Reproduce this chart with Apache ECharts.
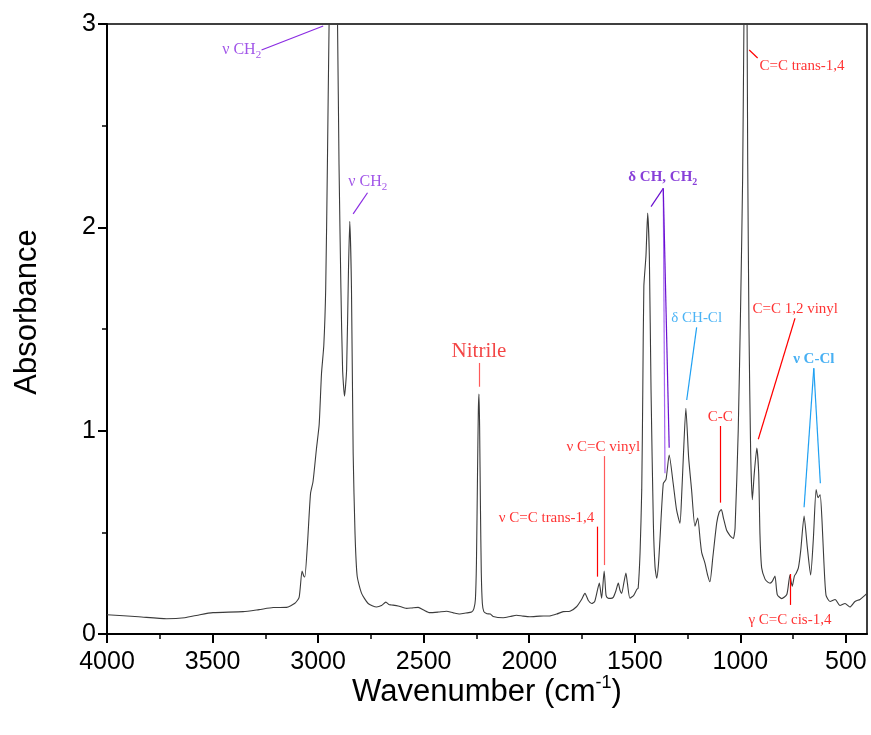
<!DOCTYPE html>
<html><head><meta charset="utf-8">
<script src="https://cdn.jsdelivr.net/npm/echarts@6/dist/echarts.min.js"></script>
<style>html,body{margin:0;padding:0;background:#fff}#c{width:871px;height:735px}</style>
</head><body><div id="c"></div>
<script>
// Spectrum (wavenumber in cm-1, absorbance)
const wavenumber = [4000,3850,3718,3632,3560,3498,3355,3280,3213,3150,3110,3090,3076,3068,3063,3050,3036,3024,3008,2995,2984,2973,2964,2956,2948,2938,2928,2918,2908,2901,2892,2884,2875,2865,2856,2850,2842,2834,2825,2815,2794,2763,2723,2700,2679,2665,2652,2621,2581,2557,2526,2500,2471,2430,2392,2360,2329,2300,2273,2262,2255,2250,2245,2241,2238,2235,2231,2227,2222,2215,2200,2184,2171,2123,2090,2060,2030,1997,1950,1902,1870,1839,1807,1776,1752,1736,1720,1704,1690,1676,1668,1657,1645,1636,1626,1614,1602,1590,1578,1570,1562,1552,1542,1535,1523,1505,1490,1484,1475,1467,1462,1457,1447,1439,1431,1423,1412,1404,1396,1388,1381,1365,1352,1337,1318,1302,1286,1278,1270,1258,1245,1231,1215,1202,1190,1183,1168,1155,1144,1130,1112,1100,1090,1080,1065,1050,1041,1033,1025,1010,998,989,983,977,971,968,965,959,951,943,934,922,913,907,899,883,870,859,848,836,825,804,780,770,765,760,754,744,735,725,714,698,683,667,654,641,632,622,613,604,594,575,551,528,504,481,457,433,410,400];
const absorbance = [0.095,0.085,0.075,0.080,0.095,0.105,0.110,0.120,0.130,0.131,0.151,0.18,0.31,0.285,0.28,0.45,0.69,0.75,0.91,1.03,1.28,1.42,1.70,2.31,3.0,3.5,3.7,3.5,3.0,2.31,1.70,1.30,1.17,1.30,1.80,2.03,1.70,0.89,0.49,0.285,0.20,0.150,0.133,0.140,0.157,0.145,0.143,0.138,0.126,0.128,0.131,0.118,0.105,0.108,0.112,0.104,0.098,0.103,0.108,0.125,0.17,0.35,0.78,1.10,1.18,1.02,0.62,0.30,0.15,0.11,0.10,0.098,0.086,0.080,0.086,0.092,0.088,0.085,0.088,0.089,0.098,0.11,0.112,0.134,0.17,0.20,0.165,0.150,0.16,0.22,0.25,0.176,0.31,0.19,0.176,0.175,0.18,0.21,0.25,0.215,0.20,0.25,0.30,0.25,0.176,0.19,0.22,0.225,0.40,0.71,1.20,1.71,1.86,2.07,1.86,1.20,0.545,0.33,0.274,0.34,0.46,0.74,0.76,0.88,0.74,0.61,0.545,0.68,0.87,1.11,0.87,0.71,0.53,0.57,0.46,0.40,0.35,0.29,0.257,0.38,0.545,0.60,0.612,0.57,0.51,0.485,0.475,0.47,0.52,1.0,1.65,2.25,3.0,3.45,3.2,3.0,2.31,1.50,0.89,0.66,0.79,0.915,0.79,0.49,0.325,0.27,0.255,0.25,0.26,0.285,0.194,0.174,0.194,0.26,0.29,0.26,0.235,0.285,0.30,0.325,0.41,0.58,0.43,0.29,0.47,0.71,0.67,0.685,0.555,0.35,0.19,0.16,0.17,0.14,0.15,0.133,0.16,0.17,0.19,0.20];

const xTickLabels = [4000,3500,3000,2500,2000,1500,1000,500];
const xMinorTicks = [3750,3250,2750,2250,1750,1250,750];
const yTickLabels = [0,1,2,3];

// Annotation texts and their positions (data units)
const annText = ['ν CH{s|2}','ν CH{s|2}','Nitrile','ν C=C trans-1,4','ν C=C vinyl','δ CH, CH{s|2}','δ CH-Cl','C-C','C=C trans-1,4','C=C 1,2 vinyl','ν C-Cl','γ C=C cis-1,4'];
const annWn  = [3362,2765,2238,1918,1649,1367,1207,1095,708,740,652,765];
const annAbs = [2.872,2.223,1.387,0.570,0.921,2.249,1.554,1.069,2.792,1.598,1.352,0.069];
const annKind = ['purple','purple','nitrile','red','red','dpurple','blue','red','red','red','bblue','red'];

// Leader lines: [[wn1,abs1],[wn2,abs2], kind]
const leaders = [
  [[3268,2.872],[2976,2.99],'purple'],
  [[2766,2.170],[2834,2.066],'purple'],
  [[2238,1.333],[2238,1.216],'pink'],
  [[1676,0.528],[1676,0.282],'red'],
  [[1646,0.875],[1646,0.339],'pink'],
  [[1365,2.192],[1423,2.102],'dpurple'],
  [[1365,2.192],[1357,0.790],'lpurple'],
  [[1365,2.192],[1337,0.916],'dpurple'],
  [[1207,1.508],[1254,1.151],'blue'],
  [[1093,1.023],[1093,0.646],'red'],
  [[958,2.872],[918,2.833],'red'],
  [[741,1.553],[915,0.958],'red'],
  [[652,1.307],[698,0.623],'blue'],
  [[652,1.307],[621,0.741],'blue'],
  [[765,0.295],[765,0.143],'red']
];

const colors = {purple:'#8a2be2', dpurple:'#6a10d0', lpurple:'#a564f2', red:'#ff0000', pink:'#ff5a5a', nitrile:'#f01818', blue:'#1ea0f2', bblue:'#1a9cf0'};
const serif = '"Liberation Serif","Times New Roman",serif';
const sans = '"Liberation Sans",Arial,sans-serif';

function labelStyle(kind, text){
  const bold = (kind==='dpurple'||kind==='bblue');
  const size = kind==='nitrile'?21:(kind==='purple'?16:15);
  const w = bold?'bold':'normal';
  const parts = text.split(/(\{s\|[^}]*\})/).filter(p=>p.length);
  const fmt = parts.map(p=>p.startsWith('{s|')?p:'{n|'+p+'}').join('');
  return {
    show:true, position:'inside', formatter:fmt, color:colors[kind],
    fontFamily:serif, fontSize:size, fontWeight:w,
    rich:{
      n:{fontFamily:serif,fontSize:size,fontWeight:w,color:colors[kind],lineHeight:size+6,verticalAlign:'middle'},
      s:{fontFamily:serif,fontSize:Math.round(size*0.66),fontWeight:w,color:colors[kind],lineHeight:Math.round(size*0.66),verticalAlign:'bottom'}
    }
  };
}

const spectrum = wavenumber.map((w,i)=>[w,absorbance[i]]);
const labelData = annText.map((t,i)=>({value:[annWn[i],annAbs[i]], label:labelStyle(annKind[i], t)}));
const leaderData = leaders.map(l=>[
  {coord:l[0], lineStyle:{color:colors[l[2]], width:1.2, type:'solid'}},
  {coord:l[1]}
]);

const chart = echarts.init(document.getElementById('c'), null, {renderer:'canvas'});
chart.setOption({
  animation:false,
  backgroundColor:'#fff',
  grid:{left:107, right:4, top:24, bottom:101, show:true, borderColor:'#000', borderWidth:1.5, backgroundColor:'transparent'},
  xAxis:[{
    type:'value', min:400, max:4000, inverse:true,
    name:'Wavenumber (cm{sup|-1})', nameLocation:'middle', nameGap:40, nameMoveOverlap:false,
    nameTextStyle:{fontFamily:sans, fontSize:31, color:'#000',
      rich:{sup:{fontFamily:sans,fontSize:18,verticalAlign:'top',lineHeight:36,color:'#000'}}},
    axisLine:{show:true, onZero:false, lineStyle:{color:'#000', width:2}},
    axisTick:{show:true, inside:false, length:9, customValues:xTickLabels, lineStyle:{color:'#000', width:2}},
    axisLabel:{show:true, customValues:xTickLabels, margin:16, fontFamily:sans, fontSize:25, color:'#000', formatter:v=>String(v)},
    splitLine:{show:false}
  },{
    type:'value', min:400, max:4000, inverse:true, position:'bottom', gridIndex:0,
    axisLine:{show:false},
    axisTick:{show:true, length:5, customValues:xMinorTicks, lineStyle:{color:'#000', width:1.5}},
    axisLabel:{show:false}, splitLine:{show:false}
  }],
  yAxis:{
    type:'value', min:0, max:3, interval:1,
    name:'Absorbance', nameLocation:'middle', nameGap:64,
    nameTextStyle:{fontFamily:sans, fontSize:31, color:'#000', padding:[0,0,0,34]},
    axisLine:{show:true, lineStyle:{color:'#000', width:2}},
    axisTick:{show:true, length:9, lineStyle:{color:'#000', width:2}},
    minorTick:{show:true, splitNumber:2, length:5, lineStyle:{color:'#000', width:1.5}},
    axisLabel:{margin:11, fontFamily:sans, fontSize:25, color:'#000', formatter:v=>String(v)},
    splitLine:{show:false}
  },
  series:[{
    type:'line', data:spectrum, showSymbol:false, symbol:'none', smooth:0.2,
    lineStyle:{color:'#3c3c3c', width:1.1}, clip:true, z:3,
    markLine:{silent:true, symbol:['none','none'], label:{show:false}, data:leaderData, animation:false}
  },{
    type:'scatter', data:labelData, symbolSize:1, itemStyle:{color:'rgba(0,0,0,0)'}, silent:true, z:5, clip:false
  }]
});
</script></body></html>
